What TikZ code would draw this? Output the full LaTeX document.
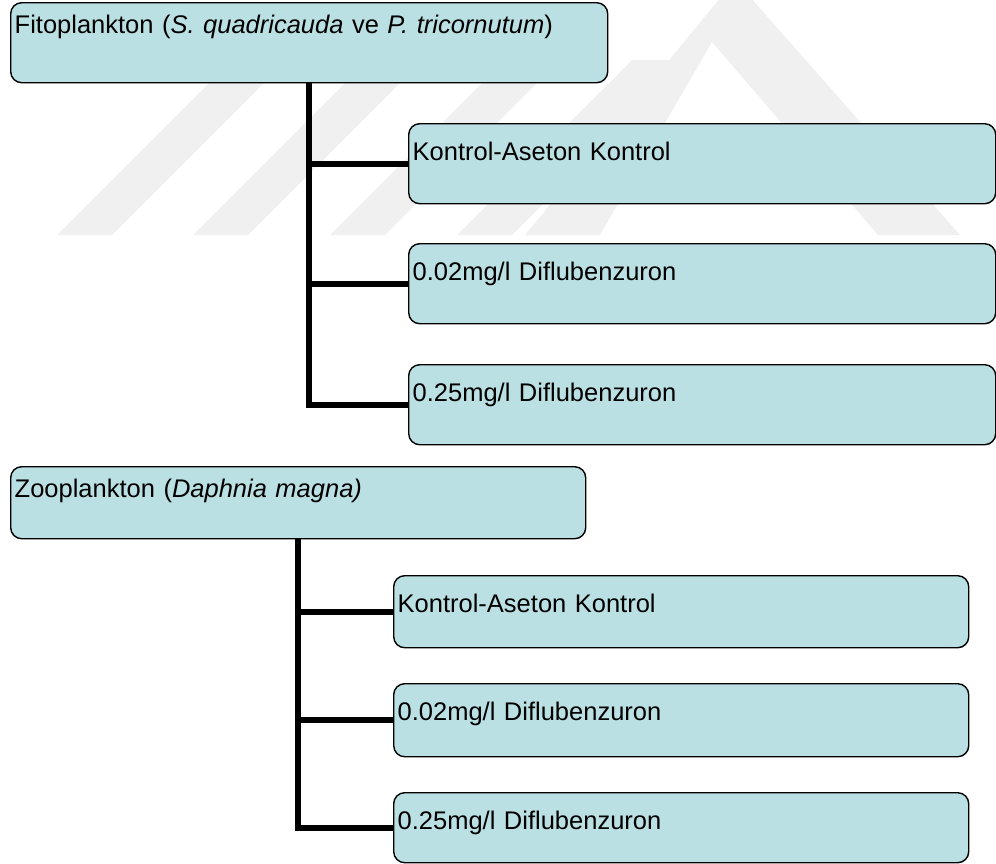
\documentclass[tikz,border=0pt]{standalone}
\usepackage{fontspec}
\setmainfont{Liberation Sans}
\definecolor{boxfill}{RGB}{187,224,227}
\definecolor{wm}{RGB}{240,240,240}
\begin{document}
\begin{tikzpicture}[x=1pt,y=-1pt,
  every node/.style={font=\fontsize{25.5}{30}\selectfont},
  card/.style={draw=black, line width=1.4pt, fill=boxfill, rounded corners=11pt,
    anchor=north west, inner xsep=4pt, inner ysep=0pt, align=left},
  conn/.style={draw=black, line width=6pt},
  wmark/.style={fill=wm, draw=none}]
\useasboundingbox (0,0) rectangle (996,863);
% faint background watermark
\foreach \xb in {57,193,330,457}{
  \path[wmark] (\xb,235) -- (\xb+55,235) -- (\xb+230,60) -- (\xb+175,60) -- cycle;
}
\path[wmark] (525,235) -- (735,-20) -- (960,235) -- (878,235) -- (712,42) -- (600,235) -- cycle;

% group 1
\node[card, text width=589pt, text height=31pt, text depth=49pt] (fA) at (10,2)
  {Fitoplankton (\textit{S. quadricauda} ve \textit{P. tricornutum})};
\node[card, text width=579pt, text height=37pt, text depth=43pt] (f1) at (408,123)
  {Kontrol-Aseton Kontrol};
\node[card, text width=579pt, text height=37pt, text depth=43pt] (f2) at (408,243)
  {0.02mg/l Diflubenzuron};
\node[card, text width=579pt, text height=37pt, text depth=43pt] (f3) at (408,364)
  {0.25mg/l Diflubenzuron};
\draw[conn] (fA.south) |- (f1.west);
\draw[conn] (fA.south) |- (f2.west);
\draw[conn] (fA.south) |- (f3.west);

% group 2
\node[card, text width=567pt, text height=31pt, text depth=41pt] (zA) at (10,466)
  {Zooplankton (\textit{Daphnia magna)}};
\node[card, text width=567pt, text height=37pt, text depth=35pt] (z1) at (393,575)
  {Kontrol-Aseton Kontrol};
\node[card, text width=567pt, text height=37pt, text depth=36pt] (z2) at (393,683)
  {0.02mg/l Diflubenzuron};
\node[card, text width=567pt, text height=37pt, text depth=33pt] (z3) at (393,792)
  {0.25mg/l Diflubenzuron};
\draw[conn] (zA.south) |- (z1.west);
\draw[conn] (zA.south) |- (z2.west);
\draw[conn] (zA.south) |- (z3.west);
\end{tikzpicture}
\end{document}
